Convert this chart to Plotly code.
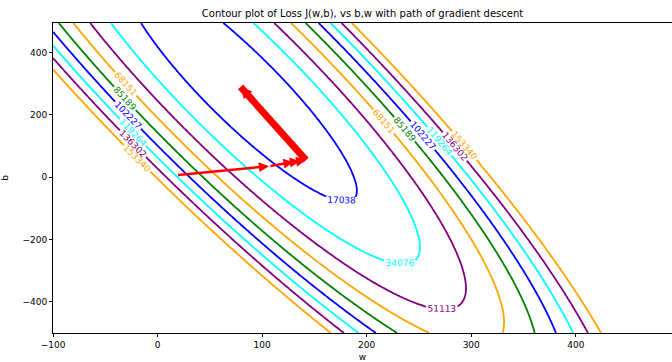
import numpy as np
import plotly.graph_objects as go

# training data behind the loss surface
x_train = np.array([1.0, 2.0, 3.0, 4.0, 5.0])
y_train = np.array([485.0, 391.0, 413.0, 550.0, 803.0])

# parameter grid
w_grid = np.arange(-100, 500, 5)
b_grid = np.arange(-500, 500, 5)

# contour levels and colours
levels = [17038, 34076, 51113, 68151, 85189, 102227, 119264, 136302, 153340]
level_colors = ["blue", "cyan", "purple", "orange", "green",
                "blue", "cyan", "purple", "orange"]

# gradient descent path (w, b)
path_w = [18, 106.5, 130, 136, 142]
path_b = [6.5, 35.5, 49, 51.6, 55]
final_w = [142, 79.4]
final_b = [55, 290]

xticks = [-100, 0, 100, 200, 300, 400]
yticks = [-400, -200, 0, 200, 400]

W, B = np.meshgrid(w_grid, b_grid)
Z = ((W[..., None] * x_train + B[..., None] - y_train) ** 2).mean(axis=-1) / 2

fig = go.Figure()
for lev, col in zip(levels, level_colors):
    fig.add_trace(go.Contour(
        x=w_grid, y=b_grid, z=Z, autocontour=False,
        contours=dict(start=lev, end=lev, size=1, coloring="lines",
                      showlabels=True, labelformat=".0f",
                      labelfont=dict(size=9, color=col, family="DejaVu Sans")),
        colorscale=[[0, col], [1, col]], showscale=False,
        line=dict(width=1.8), hoverinfo="skip"))

fig.add_trace(go.Scatter(x=final_w, y=final_b, mode="lines",
                         line=dict(color="red", width=7), hoverinfo="skip",
                         showlegend=False))

anns = []
for i in range(len(path_w) - 1):
    anns.append(dict(x=path_w[i + 1], y=path_b[i + 1], ax=path_w[i], ay=path_b[i],
                     xref="x", yref="y", axref="x", ayref="y", text="",
                     showarrow=True, arrowhead=2, arrowsize=0.8, arrowwidth=2.5,
                     arrowcolor="red"))
anns.append(dict(x=final_w[1], y=final_b[1], ax=final_w[0] + (final_w[1] - final_w[0]) * 0.9,
                 ay=final_b[0] + (final_b[1] - final_b[0]) * 0.9,
                 xref="x", yref="y", axref="x", ayref="y", text="",
                 showarrow=True, arrowhead=2, arrowsize=0.45, arrowwidth=5,
                 arrowcolor="red"))

fig.update_layout(
    width=672, height=362,
    margin=dict(l=53, r=0, t=23, b=29),
    paper_bgcolor="white", plot_bgcolor="white",
    showlegend=False,
    font=dict(family="DejaVu Sans", size=9, color="black"),
    title=dict(text="Contour plot of Loss J(w,b), vs b,w with path of gradient descent",
               x=0.5, xref="paper", y=1 - 13 / 362, yref="container",
               xanchor="center", yanchor="middle",
               font=dict(size=10, family="DejaVu Sans", color="black")),
    annotations=anns,
)
fig.update_xaxes(range=[-100, 492], tickvals=xticks, showgrid=False, zeroline=False,
                 showline=True, linecolor="black", linewidth=1, mirror=True,
                 ticks="outside", ticklen=3, tickcolor="black", automargin=False,
                 title=dict(text="w", standoff=4, font=dict(size=9)))
fig.update_yaxes(range=[-500, 495], tickvals=yticks, showgrid=False, zeroline=False,
                 showline=True, linecolor="black", linewidth=1, mirror=False,
                 ticks="outside", ticklen=3, tickcolor="black", automargin=False,
                 title=dict(text="b", standoff=12, font=dict(size=9)))

fig.write_html("out.html", config={"displayModeBar": False},
               post_script="document.body.style.margin='0px';document.body.style.overflow='hidden';")
